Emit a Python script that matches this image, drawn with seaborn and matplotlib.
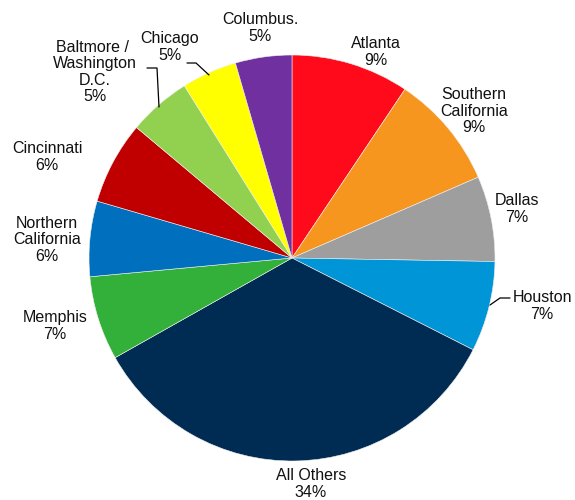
import matplotlib
matplotlib.use("Agg")
import matplotlib.pyplot as plt
import seaborn as sns

# ---- data ----
categories = ["Atlanta", "Southern\nCalifornia", "Dallas", "Houston", "All Others",
              "Memphis", "Northern\nCalifornia", "Cincinnati",
              "Baltmore / \nWashington\nD.C.", "Chicago", "Columbus."]
shares = [9.4, 9.1, 6.8, 7.2, 34.4, 6.7, 6.0, 6.6, 5.0, 4.4, 4.5]
pct_labels = ["9%", "9%", "7%", "7%", "34%", "7%", "6%", "6%", "5%", "5%", "5%"]
colors = ["#FF0A1A", "#F7961F", "#9E9E9E", "#0095D6", "#002B53", "#33B03A",
          "#006FBE", "#C00000", "#92D050", "#FFFF00", "#7030A0"]

# ---- layout (pixel coordinates of label centres, y measured from top) ----
label_pos = [(376, 52), (474, 111), (517, 209), (542, 306), (311, 484),
             (55, 326), (47, 240), (47, 157), (95, 72), (170, 47), (260, 28)]

sns.set_theme(style="white")
plt.rcParams["font.family"] = ["Liberation Sans", "DejaVu Sans"]

W, H = 575, 500
fig = plt.figure(figsize=(W / 100, H / 100), dpi=100)
ax = fig.add_axes([0, 0, 1, 1])

ax.pie(shares, colors=colors, startangle=90, counterclock=False,
       center=(292, H - 258), radius=203, frame=True,
       wedgeprops=dict(edgecolor="#f0f0f0", linewidth=0.4))
ax.set_xlim(0, W)
ax.set_ylim(0, H)
ax.set_aspect("equal")
ax.axis("off")

for cat, pct, (px, py) in zip(categories, pct_labels, label_pos):
    ax.text(px, H - py, f"{cat}\n{pct}", ha="center", va="center",
            fontsize=11.5, color="#111111", linespacing=1.1)

# leader lines
leaders = [
    [(187, 63), (196, 63), (209, 75)],      # Chicago
    [(147, 68), (157, 68), (159, 107)],     # Baltimore / Washington
    [(510, 298), (500, 298), (490, 305)],   # Houston
]
for pts in leaders:
    xs = [p[0] for p in pts]
    ys = [H - p[1] for p in pts]
    ax.plot(xs, ys, color="black", linewidth=0.9)

fig.savefig("out.png", dpi=100, facecolor="white")
